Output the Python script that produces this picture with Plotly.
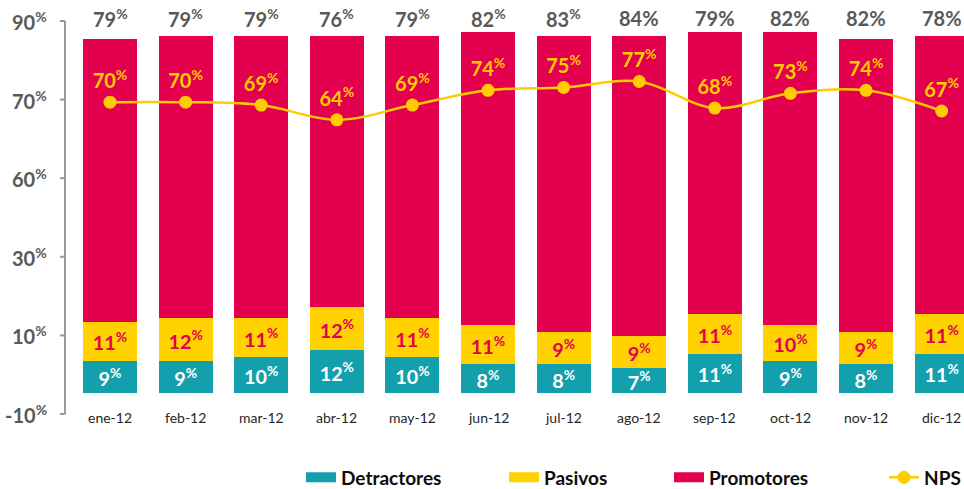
import numpy as np
import plotly.graph_objects as go

# ---------------- data ----------------
months = ["ene-12", "feb-12", "mar-12", "abr-12", "may-12", "jun-12",
          "jul-12", "ago-12", "sep-12", "oct-12", "nov-12", "dic-12"]
detractores = [9, 9, 10, 12, 10, 8, 8, 7, 11, 9, 8, 11]
pasivos = [11, 12, 11, 12, 11, 11, 9, 9, 11, 10, 9, 11]
promotores = [79, 79, 79, 76, 79, 82, 83, 84, 79, 82, 82, 78]
nps = [70, 70, 69, 64, 69, 74, 75, 77, 68, 73, 74, 67]
promo_label_sup = [True] * 7 + [False] * 5
ytick_labels = ["-10", "10", "30", "60", "70", "90"]

# ---------------- style ----------------
TEAL = "#139FAC"
YELLOW = "#FFD200"
CRIMSON = "#E2004F"
GOLD = "#FFCC00"
GRAY_TXT = "#595959"
AXIS_GRAY = "#999999"
FONT = "Lato"

W, H = 964, 489
ML, MR, MT, MB = 66, 0, 21, 75
plot_w = W - ML - MR

y_range = [-5.87, 104.06]
y2_range = [-35.7, 97.5]
x_range = [-0.582, 11.296]
n_ticks = len(ytick_labels)
tick_frac = [i / (n_ticks - 1) for i in range(n_ticks)]
tickvals = [y_range[0] + f * (y_range[1] - y_range[0]) for f in tick_frac]

fig = go.Figure()

fig.add_trace(go.Bar(
    x=months, y=detractores, marker_color=TEAL, marker_line_width=0,
    text=[f"{v}<sup>%</sup>" for v in detractores],
    textposition="inside", insidetextanchor="middle", textangle=0,
    textfont=dict(family=FONT, size=20, color="white", weight="bold"),
    showlegend=False, hoverinfo="skip"))
fig.add_trace(go.Bar(
    x=months, y=pasivos, marker_color=YELLOW, marker_line_width=0,
    text=[f"{v}<sup>%</sup>" for v in pasivos],
    textposition="inside", insidetextanchor="middle", textangle=0,
    textfont=dict(family=FONT, size=20, color=CRIMSON, weight="bold"),
    showlegend=False, hoverinfo="skip"))
fig.add_trace(go.Bar(
    x=months, y=promotores, marker_color=CRIMSON, marker_line_width=0,
    showlegend=False, hoverinfo="skip"))

fig.add_trace(go.Scatter(
    x=months, y=nps, yaxis="y2", name="NPS",
    mode="lines+markers+text",
    line=dict(color=GOLD, width=2.5, shape="spline", smoothing=1.0),
    marker=dict(color=GOLD, size=13),
    text=[f"{v}<sup>%</sup>" for v in nps], textposition="top center",
    textfont=dict(family=FONT, size=20, color=GOLD, weight="bold"),
    cliponaxis=False, legend="legend4"))

# legend-only entries (wide rectangular swatches)
for name, col, lg in [("Detractores", TEAL, "legend"),
                      ("Pasivos", YELLOW, "legend2"),
                      ("Promotores", CRIMSON, "legend3")]:
    fig.add_trace(go.Scatter(x=[None], y=[None], mode="lines", name=name,
                             line=dict(color=col, width=13), legend=lg,
                             hoverinfo="skip"))

annotations = []
for m, v, sup in zip(months, promotores, promo_label_sup):
    txt = f"{v}<sup>%</sup>" if sup else f"{v}%"
    annotations.append(dict(x=m, y=1, xref="x", yref="paper", text=txt,
                            showarrow=False, yanchor="middle", yshift=3,
                            font=dict(family=FONT, size=20, color=GRAY_TXT,
                                      weight="bold")))
for m in months:
    annotations.append(dict(x=m, y=0, xref="x", yref="paper", text=m,
                            showarrow=False, yanchor="middle", yshift=-3,
                            font=dict(family=FONT, size=14, color="#262626")))
# y tick labels (placed as text next to the axis ticks)
for f, t in zip(tick_frac, ytick_labels):
    annotations.append(dict(x=0, y=f, xref="paper", yref="paper",
                            text=f"{t}<sup>%</sup>", showarrow=False,
                            xanchor="right", yanchor="middle", xshift=-17,
                            font=dict(family=FONT, size=20, color=GRAY_TXT,
                                      weight="bold")))

# vertical axis line and its tick marks
shapes = [dict(type="line", xref="paper", yref="paper", x0=0, x1=0, y0=0, y1=1,
               xsizemode="pixel", xanchor=0,
               line=dict(color=AXIS_GRAY, width=2), layer="above")]
shapes[0].update(x0=-1, x1=-1)
for f in tick_frac:
    shapes.append(dict(type="line", xref="paper", yref="paper",
                       xsizemode="pixel", xanchor=0, x0=-6, x1=-1, y0=f, y1=f,
                       line=dict(color=AXIS_GRAY, width=2), layer="above"))

leg_font = dict(family=FONT, size=19, color="#0D0D0D", weight="bold")
leg_y = -0.1616
def leg(px):
    return dict(x=(px - ML) / plot_w, y=leg_y, xanchor="left", yanchor="middle",
                orientation="h", font=leg_font, bgcolor="rgba(0,0,0,0)",
                borderwidth=0)

fig.update_layout(
    width=W, height=H,
    margin=dict(l=ML, r=MR, t=MT, b=MB, autoexpand=False),
    paper_bgcolor="white", plot_bgcolor="white",
    barmode="stack", bargap=0.286,
    uniformtext=dict(minsize=19, mode="show"),
    xaxis=dict(type="category", range=x_range, showticklabels=False,
               showline=False, ticks="", showgrid=False, zeroline=False),
    yaxis=dict(range=y_range, tickvals=tickvals, showticklabels=False,
               showline=False, ticks="", showgrid=False, zeroline=False),
    yaxis2=dict(range=y2_range, overlaying="y", visible=False),
    legend=leg(301), legend2=leg(504), legend3=leg(669), legend4=leg(884),
    annotations=annotations,
    shapes=shapes,
    showlegend=True,
)

fig.write_html(
    "out.html",
    config={"displayModeBar": False},
    post_script="document.body.style.margin='0';document.body.style.overflow='hidden';",
)
